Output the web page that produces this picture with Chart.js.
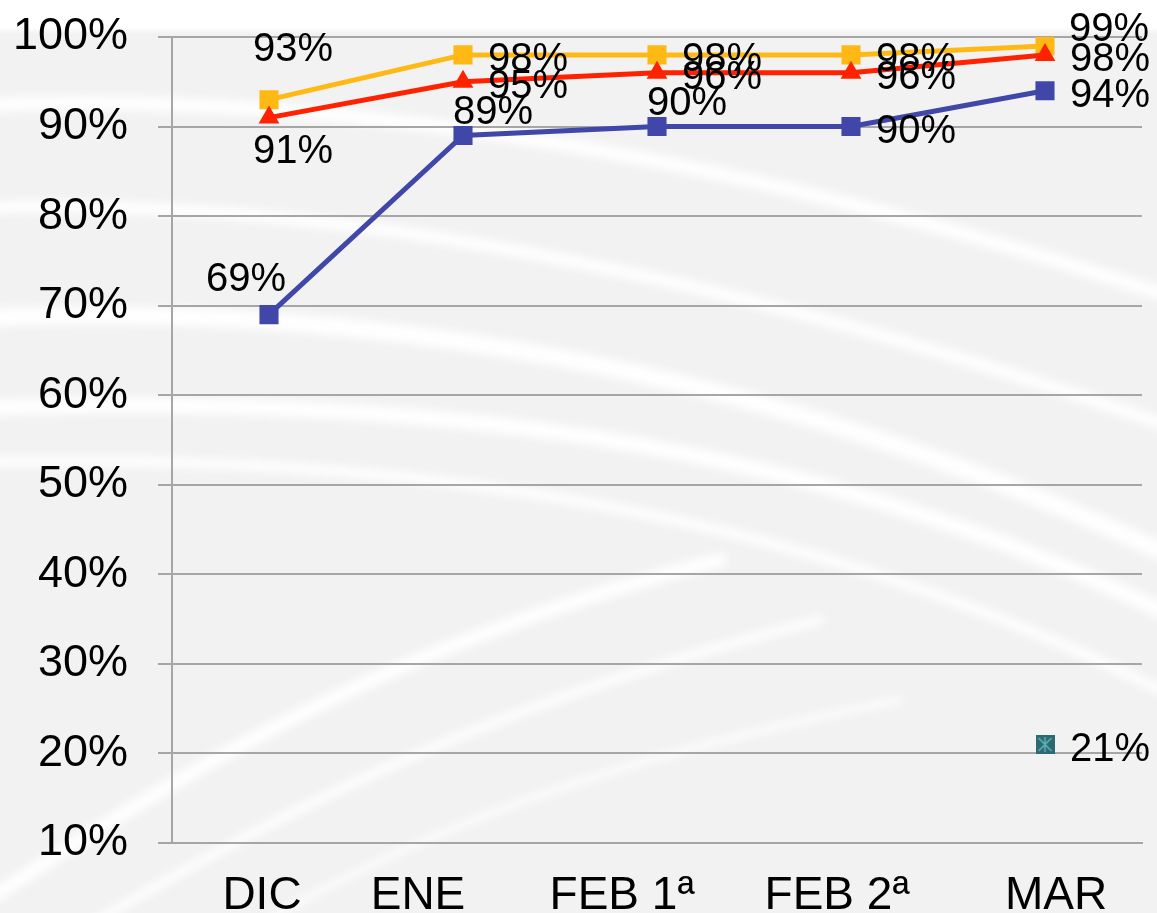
<!DOCTYPE html>
<html>
<head>
<meta charset="utf-8">
<script src="https://cdn.jsdelivr.net/npm/chart.js@4/dist/chart.umd.min.js"></script>
<style>
  html, body { margin: 0; padding: 0; background: #f2f2f2; }
  #wrap { width: 1157px; height: 913px; }
</style>
</head>
<body>
<div id="wrap"><canvas id="chart" width="1157" height="913"></canvas></div>
<script>
// --- Data ---
const categories = ["DIC", "ENE", "FEB 1ª", "FEB 2ª", "MAR"];
const yellowValues = [93, 98, 98, 98, 99];
const redValues = [91, 95, 96, 96, 98];
const blueValues = [69, 89, 90, 90, 94];
const tealValues = [null, null, null, null, 21];
const yTicks = [10, 20, 30, 40, 50, 60, 70, 80, 90, 100];

// --- Label placement (per point) ---
const yellowLabelPos = ["above", "right", "right", "right", "rightUp"];
const redLabelPos = ["below", "right", "right", "right", "right"];
const blueLabelPos = ["aboveLeft", "aboveRight", "aboveRight", "right", "right"];
const tealLabelPos = [null, null, null, null, "right"];

const PLACE = {
  above: { dx: 24, dy: -53, align: "center" },
  below: { dx: 24, dy: 31, align: "center" },
  aboveLeft: { dx: -23, dy: -38, align: "center" },
  aboveRight: { dx: 30, dy: -26, align: "center" },
  right: { dx: 25, dy: 2, align: "left" },
  rightUp: { dx: 24, dy: -19, align: "left" },
};

// category labels in the original sit a bit off their points
const xLabelShift = [-7, -45, -35, -14, 11];

const FONT = "'Liberation Sans', Arial, sans-serif";
const GRID = "#a6a6a6";

// teal marker: square with a star inside
function makeTealMarker() {
  const c = document.createElement("canvas");
  c.width = 19;
  c.height = 19;
  const g = c.getContext("2d");
  g.fillStyle = "#2b6a70";
  g.fillRect(0, 0, 19, 19);
  g.strokeStyle = "#5fb3b8";
  g.lineWidth = 1.5;
  g.beginPath();
  g.moveTo(9.5, 2); g.lineTo(9.5, 17);
  g.moveTo(3, 3); g.lineTo(16, 16);
  g.moveTo(16, 3); g.lineTo(3, 16);
  g.stroke();
  return c;
}

// --- Background swooshes ---
const backgroundPlugin = {
  id: "swooshBg",
  beforeDraw(chart) {
    const ctx = chart.ctx;
    const w = chart.width, h = chart.height;
    ctx.save();
    ctx.fillStyle = "#f2f2f2";
    ctx.fillRect(0, 0, w, h);
    const top = ctx.createLinearGradient(0, 0, 0, 34);
    top.addColorStop(0, "#ffffff");
    top.addColorStop(0.8, "#ffffff");
    top.addColorStop(1, "#f2f2f2");
    ctx.fillStyle = top;
    ctx.fillRect(0, 0, w, 34);
    ctx.filter = "blur(5px)";
    ctx.strokeStyle = "rgba(255,255,255,0.95)";
    ctx.lineCap = "round";
    const curves = [
      [[-20, 105], [300, 92], [700, 140], [1180, 300], 14],
      [[-20, 208], [300, 196], [700, 262], [1180, 430], 12],
      [[-20, 318], [400, 300], [800, 380], [1180, 560], 18],
      [[-20, 408], [400, 395], [800, 430], [1180, 620], 16],
      [[-20, 462], [400, 452], [800, 505], [1180, 700], 10],
      [[-20, 905], [200, 760], [400, 640], [720, 560], 14],
      [[90, 925], [300, 800], [500, 700], [820, 620], 9],
      [[250, 930], [420, 830], [600, 760], [900, 700], 6],
    ];
    curves.forEach(([a, b, c, d, lw]) => {
      ctx.lineWidth = lw;
      ctx.beginPath();
      ctx.moveTo(a[0], a[1]);
      ctx.bezierCurveTo(b[0], b[1], c[0], c[1], d[0], d[1]);
      ctx.stroke();
    });
    ctx.restore();

    // nudge the category labels like the original
    const xs = chart.scales.x;
    xs.getLabelItems().forEach((item, i) => {
      if (!item._shifted) {
        item.options.translation[0] += xLabelShift[i] || 0;
        item._shifted = true;
      }
    });
  },
};

// --- Data labels ---
const labelPlugin = {
  id: "pointLabels",
  afterDatasetsDraw(chart) {
    const ctx = chart.ctx;
    const size = 40;
    ctx.save();
    ctx.font = `${size}px ${FONT}`;
    ctx.fillStyle = "#000";
    ctx.textBaseline = "alphabetic";
    chart.data.datasets.forEach((ds, i) => {
      const meta = chart.getDatasetMeta(i);
      meta.data.forEach((pt, j) => {
        const v = ds.data[j];
        const key = ds.labelPos[j];
        if (v == null || !key) return;
        const p = PLACE[key];
        ctx.textAlign = p.align;
        ctx.fillText(v + "%", pt.x + p.dx, pt.y + p.dy + size * 0.358);
      });
    });
    ctx.restore();
  },
};

function lineSet(label, data, color, style, radius, labelPos) {
  return {
    label: label,
    data: data,
    borderColor: color,
    backgroundColor: color,
    pointBackgroundColor: color,
    pointBorderColor: color,
    pointBorderWidth: 0,
    borderWidth: 5,
    pointStyle: style,
    pointRadius: radius,
    pointHoverRadius: radius,
    tension: 0,
    labelPos: labelPos,
  };
}

const ctx = document.getElementById("chart").getContext("2d");
new Chart(ctx, {
  type: "line",
  data: {
    labels: categories,
    datasets: [
      lineSet("Azul", blueValues, "#4047a8", "rect", 13.5, blueLabelPos),
      lineSet("Rojo", redValues, "#ff2200", "triangle", 12, redLabelPos),
      lineSet("Amarillo", yellowValues, "#ffb914", "rect", 13.5, yellowLabelPos),
      Object.assign(
        lineSet("Verde", tealValues, "#2b6a70", makeTealMarker(), 10, tealLabelPos),
        { showLine: false }
      ),
    ],
  },
  options: {
    responsive: false,
    animation: false,
    events: [],
    layout: { padding: { top: 37, right: 15, left: 0, bottom: 0 } },
    plugins: {
      legend: { display: false },
      tooltip: { enabled: false },
    },
    scales: {
      x: {
        offset: true,
        grid: { display: false, drawTicks: false },
        border: { display: true, color: GRID, width: 2 },
        ticks: {
          color: "#000",
          font: { family: FONT, size: 46 },
          padding: 26,
          maxRotation: 0,
          autoSkip: false,
        },
        afterFit: (s) => { s.height = 70; },
      },
      y: {
        min: 10,
        max: 100,
        afterBuildTicks: (s) => { s.ticks = yTicks.map((v) => ({ value: v })); },
        grid: { color: GRID, lineWidth: 2, tickLength: 14, drawTicks: true },
        border: { display: true, color: GRID, width: 2 },
        ticks: {
          color: "#000",
          font: { family: FONT, size: 45 },
          padding: 30,
          callback: (v) => v + "%",
        },
        afterFit: (s) => {
          s.width = 172;
          s.paddingTop = 0;
          s.paddingBottom = 0;
        },
      },
    },
  },
  plugins: [backgroundPlugin, labelPlugin],
});
</script>
</body>
</html>
